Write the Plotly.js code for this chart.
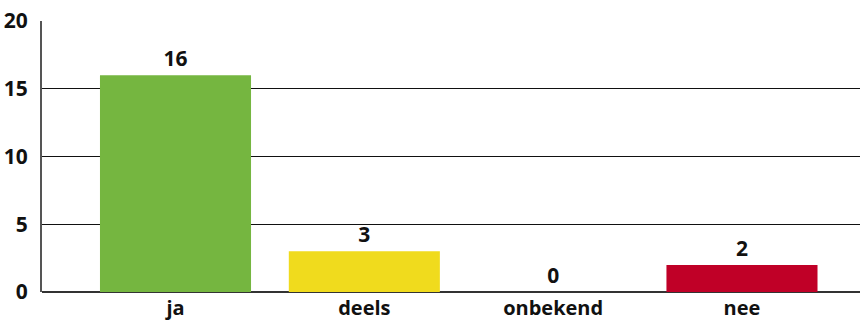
<!DOCTYPE html>
<html><head><meta charset="utf-8">
<script src="https://cdn.plot.ly/plotly-3.0.1.min.js"></script>
<style>html,body{margin:0;padding:0;background:#fff}</style>
</head><body>
<div id="chart" style="width:860px;height:320px"></div>
<script>
const categories = ["ja", "deels", "onbekend", "nee"];
const values = [16, 3, 0, 2];
const barColors = ["#75b640", "#f0db1d", "#cccccc", "#c00027"];
const yTicks = [0, 5, 10, 15, 20];

const trace = {
  type: "bar",
  x: categories,
  y: values,
  width: 0.8,
  marker: {color: barColors},
  text: values.map(String),
  textposition: "outside",
  cliponaxis: false,
  textfont: {family: "Open Sans", size: 21, color: "#111", weight: 700},
  hoverinfo: "none"
};

const layout = {
  width: 860, height: 320,
  margin: {l: 42, r: 0, t: 21, b: 28, pad: 0},
  paper_bgcolor: "#fff", plot_bgcolor: "#fff",
  showlegend: false,
  bargap: 0.2,
  xaxis: {
    type: "category",
    range: [-0.707, 3.625],
    showgrid: false, zeroline: false, showline: false,
    ticks: "", ticklabelstandoff: 2,
    tickfont: {family: "Open Sans", size: 20, color: "#111", weight: 700},
    fixedrange: true
  },
  yaxis: {
    range: [0, 20],
    tickvals: yTicks,
    ticktext: yTicks.map(String),
    showgrid: true, gridcolor: "#111", gridwidth: 1,
    zeroline: true, zerolinecolor: "#333", zerolinewidth: 2,
    showline: true, linecolor: "#555", linewidth: 2,
    ticks: "", ticklabelstandoff: 8,
    tickfont: {family: "Open Sans", size: 21, color: "#111", weight: 700},
    fixedrange: true
  }
};

Plotly.newPlot("chart", [trace], layout, {displayModeBar: false, staticPlot: true});
</script>
</body></html>
